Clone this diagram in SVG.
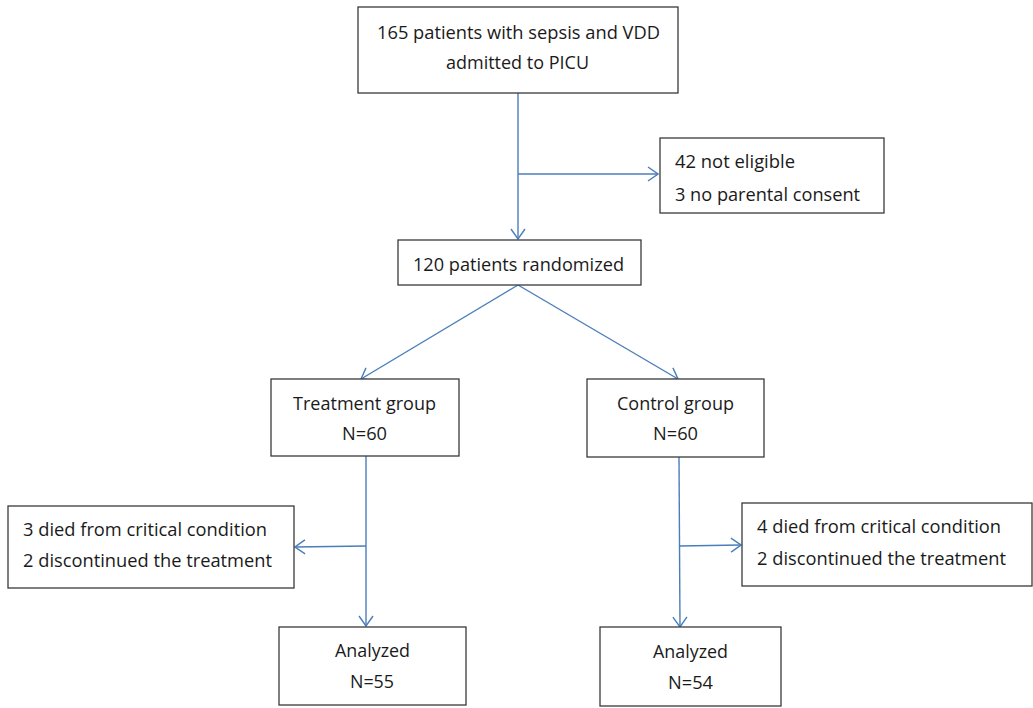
<svg xmlns="http://www.w3.org/2000/svg" width="1033" height="708" viewBox="0 0 1033 708">
<style>
.box{fill:#fff;stroke:#3a3a3a;stroke-width:1.3}
.t{font-family:"Open Sans","Liberation Sans",sans-serif;font-size:19px;fill:#1a1a1a}
.ln{fill:none;stroke:#4a7ebb;stroke-width:1.4}
</style>
<defs>
<marker id="arr" viewBox="0 0 12 16" refX="11" refY="8" markerWidth="12" markerHeight="16" markerUnits="userSpaceOnUse" orient="auto">
<path d="M1,1 L11,8 L1,15" fill="none" stroke="#4a7ebb" stroke-width="1.4"/>
</marker>
</defs>
<rect width="1033" height="708" fill="#fff"/>
<g id="connectors">
<line class="ln" x1="518" y1="93" x2="518" y2="239" marker-end="url(#arr)"/>
<line class="ln" x1="518" y1="174" x2="658" y2="174" marker-end="url(#arr)"/>
<line class="ln" x1="518" y1="285" x2="361" y2="379" marker-end="url(#arr)"/>
<line class="ln" x1="518" y1="285" x2="678" y2="379" marker-end="url(#arr)"/>
<line class="ln" x1="366" y1="456" x2="366" y2="626" marker-end="url(#arr)"/>
<line class="ln" x1="366" y1="546" x2="295" y2="547" marker-end="url(#arr)"/>
<line class="ln" x1="679" y1="457" x2="680" y2="627" marker-end="url(#arr)"/>
<line class="ln" x1="679" y1="546" x2="741" y2="545" marker-end="url(#arr)"/>
</g>
<g id="n-admitted">
<rect class="box" x="358" y="7" width="320" height="86"/>
<text class="t" x="377" y="39" textLength="283" lengthAdjust="spacingAndGlyphs">165 patients with sepsis and VDD</text>
<text class="t" x="446" y="69" textLength="143" lengthAdjust="spacingAndGlyphs">admitted to PICU</text>
</g>
<g id="n-excluded">
<rect class="box" x="660" y="138" width="224" height="75"/>
<text class="t" x="675" y="168" textLength="120" lengthAdjust="spacingAndGlyphs">42 not eligible</text>
<text class="t" x="675" y="201" textLength="185" lengthAdjust="spacingAndGlyphs">3 no parental consent</text>
</g>
<g id="n-randomized">
<rect class="box" x="398" y="240" width="243" height="45"/>
<text class="t" x="413" y="271" textLength="211" lengthAdjust="spacingAndGlyphs">120 patients randomized</text>
</g>
<g id="n-treatment">
<rect class="box" x="271" y="379" width="188" height="77"/>
<text class="t" x="293" y="410" textLength="143" lengthAdjust="spacingAndGlyphs">Treatment group</text>
<text class="t" x="342" y="440" textLength="45" lengthAdjust="spacingAndGlyphs">N=60</text>
</g>
<g id="n-control">
<rect class="box" x="587" y="379" width="177" height="78"/>
<text class="t" x="617" y="410" textLength="117" lengthAdjust="spacingAndGlyphs">Control group</text>
<text class="t" x="653" y="440" textLength="45" lengthAdjust="spacingAndGlyphs">N=60</text>
</g>
<g id="n-treat-lost">
<rect class="box" x="8" y="506" width="286" height="82"/>
<text class="t" x="23" y="536" textLength="244" lengthAdjust="spacingAndGlyphs">3 died from critical condition</text>
<text class="t" x="23" y="567" textLength="249" lengthAdjust="spacingAndGlyphs">2 discontinued the treatment</text>
</g>
<g id="n-control-lost">
<rect class="box" x="742" y="503" width="290" height="83"/>
<text class="t" x="757" y="533" textLength="244" lengthAdjust="spacingAndGlyphs">4 died from critical condition</text>
<text class="t" x="757" y="565" textLength="249" lengthAdjust="spacingAndGlyphs">2 discontinued the treatment</text>
</g>
<g id="n-treat-analyzed">
<rect class="box" x="279" y="627" width="187" height="78"/>
<text class="t" x="335" y="657" textLength="75" lengthAdjust="spacingAndGlyphs">Analyzed</text>
<text class="t" x="350" y="688" textLength="44" lengthAdjust="spacingAndGlyphs">N=55</text>
</g>
<g id="n-control-analyzed">
<rect class="box" x="600" y="627" width="181" height="79"/>
<text class="t" x="653" y="658" textLength="75" lengthAdjust="spacingAndGlyphs">Analyzed</text>
<text class="t" x="668" y="689" textLength="45" lengthAdjust="spacingAndGlyphs">N=54</text>
</g>
</svg>
